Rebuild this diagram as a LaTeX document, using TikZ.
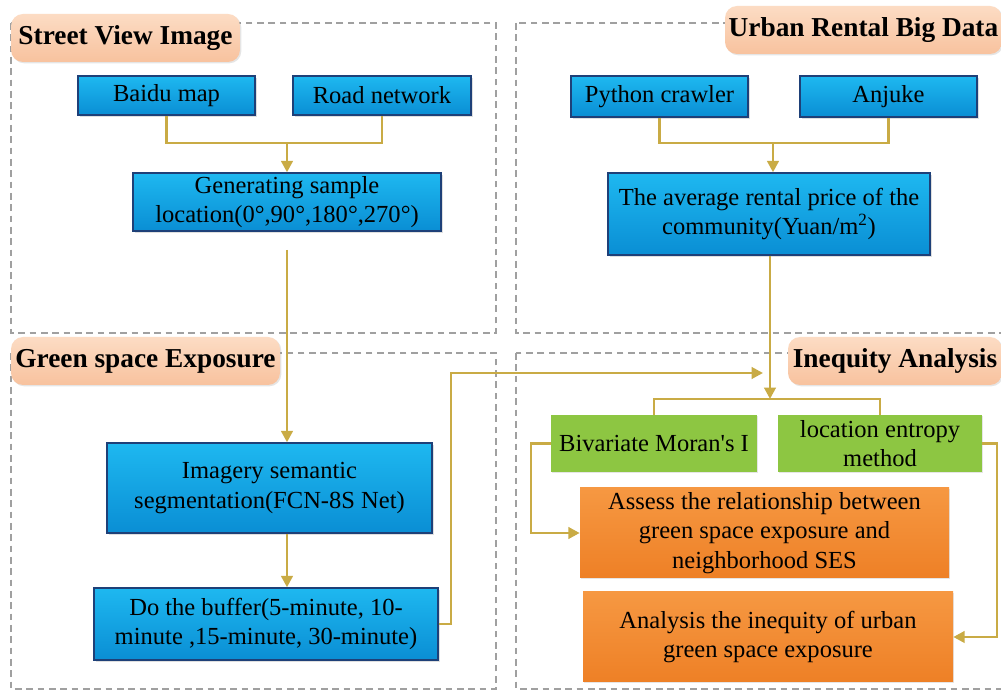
\documentclass[tikz,border=0pt]{standalone}
\usepackage{fontspec}
\setmainfont{Liberation Serif}
\usetikzlibrary{arrows.meta,shadows}
\definecolor{gold}{RGB}{201,171,69}
\definecolor{panelgray}{RGB}{160,160,160}
\definecolor{bluetop}{RGB}{30,184,240}
\definecolor{bluebot}{RGB}{10,142,212}
\definecolor{blueedge}{RGB}{30,64,120}
\definecolor{greenfill}{RGB}{141,198,66}
\definecolor{orangetop}{RGB}{246,152,66}
\definecolor{orangebot}{RGB}{238,128,38}
\definecolor{peachtop}{RGB}{252,220,196}
\definecolor{peachbot}{RGB}{248,194,158}
\tikzset{
  panel/.style={draw=panelgray,line width=1.1pt,dash pattern=on 5pt off 3.5pt},
  tag/.style={rounded corners=9pt,top color=peachtop,bottom color=peachbot,
    draw=none,minimum height=36pt,inner sep=0pt,
    font=\fontsize{20.5}{24}\selectfont\bfseries,
    drop shadow={shadow xshift=1pt,shadow yshift=-1pt,opacity=0.2}},
  bluebox/.style={top color=bluetop,bottom color=bluebot,draw=blueedge,line width=1pt,
    align=center,inner sep=0pt,font=\fontsize{18.4}{21.5}\selectfont,
    drop shadow={shadow xshift=1.2pt,shadow yshift=-1.2pt,opacity=0.25}},
  greenbox/.style={fill=greenfill,draw=none,align=center,inner sep=0pt,
    font=\fontsize{18.4}{21.5}\selectfont,
    drop shadow={shadow xshift=1pt,shadow yshift=-1pt,opacity=0.2}},
  orangebox/.style={top color=orangetop,bottom color=orangebot,draw=none,align=center,
    inner sep=0pt,font=\fontsize{18.4}{22}\selectfont,
    drop shadow={shadow xshift=1pt,shadow yshift=-1pt,opacity=0.2}},
  conn/.style={draw=gold,line width=2.1pt},
  arr/.style={conn,-{Triangle[length=8.5pt,width=8.5pt]}},
}
\begin{document}
\begin{tikzpicture}[x=0.75pt,y=-0.75pt]
\useasboundingbox (0,0) rectangle (1001,691);
\clip (0,0) rectangle (1001,691);
\fill[white] (0,0) rectangle (1001,691);
% panels
\draw[panel] (11,23) rectangle (496,333);
\draw[panel] (516,23) rectangle (1010,333);
\draw[panel] (11,353) rectangle (496,689);
\draw[panel] (516,353) rectangle (1010,689);
% tags
\node[tag,minimum width=171.75pt] (t1) at (125.5,38) {Street View Image};
\node[tag,minimum width=207.75pt] (t2) at (863.5,30) {Urban Rental Big Data};
\node[tag,minimum width=201.75pt] (t3) at (145.5,361) {Green space Exposure};
\node[tag,minimum width=160.5pt] (t4) at (895,361) {Inequity Analysis};
% blue boxes
\node[bluebox,minimum width=132.75pt,minimum height=29.25pt] (baidu) at (166.5,95.5) {Baidu map};
\node[bluebox,minimum width=133.5pt,minimum height=29.25pt] (road) at (382,95.5) {Road network};
\node[bluebox,minimum width=231pt,minimum height=43.5pt] (gen) at (287,202) {Generating sample\\location(0°,90°,180°,270°)};
\node[bluebox,minimum width=132.75pt,minimum height=30.75pt] (python) at (659.5,96.5) {Python crawler};
\node[bluebox,minimum width=132.75pt,minimum height=30.75pt] (anjuke) at (888.5,96.5) {Anjuke};
\node[bluebox,minimum width=241.5pt,minimum height=61.5pt] (avg) at (769,214) {The average rental price of the\\community(Yuan/m\textsuperscript{2})};
\node[bluebox,minimum width=243.75pt,minimum height=67.5pt,font=\fontsize{18.4}{22.5}\selectfont] (img) at (269.5,488) {Imagery semantic\\segmentation(FCN-8S Net)};
\node[bluebox,minimum width=258pt,minimum height=54pt] (buf) at (266,624) {Do the buffer(5-minute, 10-\\minute ,15-minute, 30-minute)};
% green boxes
\node[greenbox,minimum width=154.5pt,minimum height=42.75pt] (biv) at (654,443.5) {Bivariate Moran\textquotesingle s I};
\node[greenbox,minimum width=153pt,minimum height=42.75pt] (loc) at (880,443.5) {location entropy\\method};
% orange boxes
\node[orangebox,minimum width=276.75pt,minimum height=67.5pt] (assess) at (764.5,533) {Assess the relationship between\\green space exposure and\\neighborhood SES};
\node[orangebox,minimum width=277.5pt,minimum height=67.5pt] (anal) at (768,637) {Analysis the inequity of urban\\green space exposure};
% junction coordinates
\coordinate (j1) at (287,143);
\coordinate (j2) at (773,143);
\coordinate (j3) at (770,399);
\coordinate (g0) at (287,250);
\coordinate (k1) at (451,373);
\coordinate (k2) at (763,373);
\coordinate (k3) at (531,533);
\coordinate (k4) at (997,637);
% connectors
\draw[conn] (baidu.south) |- (j1) -| (road.south);
\draw[arr] (j1) -- (gen.north);
\draw[conn] (python.south) |- (j2) -| (anjuke.south);
\draw[arr] (j2) -- (j2 |- avg.north);
\draw[arr] (g0) -- (g0 |- img.north);
\draw[arr] (g0 |- img.south) -- (g0 |- buf.north);
\draw[arr] (avg.south -| j3) -- (j3);
\draw[conn] (biv.north) |- (j3) -| (loc.north);
\draw[arr] (buf.east) -| (k1) -- (k2);
\draw[arr] (biv.west) -| (k3) -- (assess.west);
\draw[arr] (loc.east) -| (k4) -- (anal.east);
\end{tikzpicture}
\end{document}
